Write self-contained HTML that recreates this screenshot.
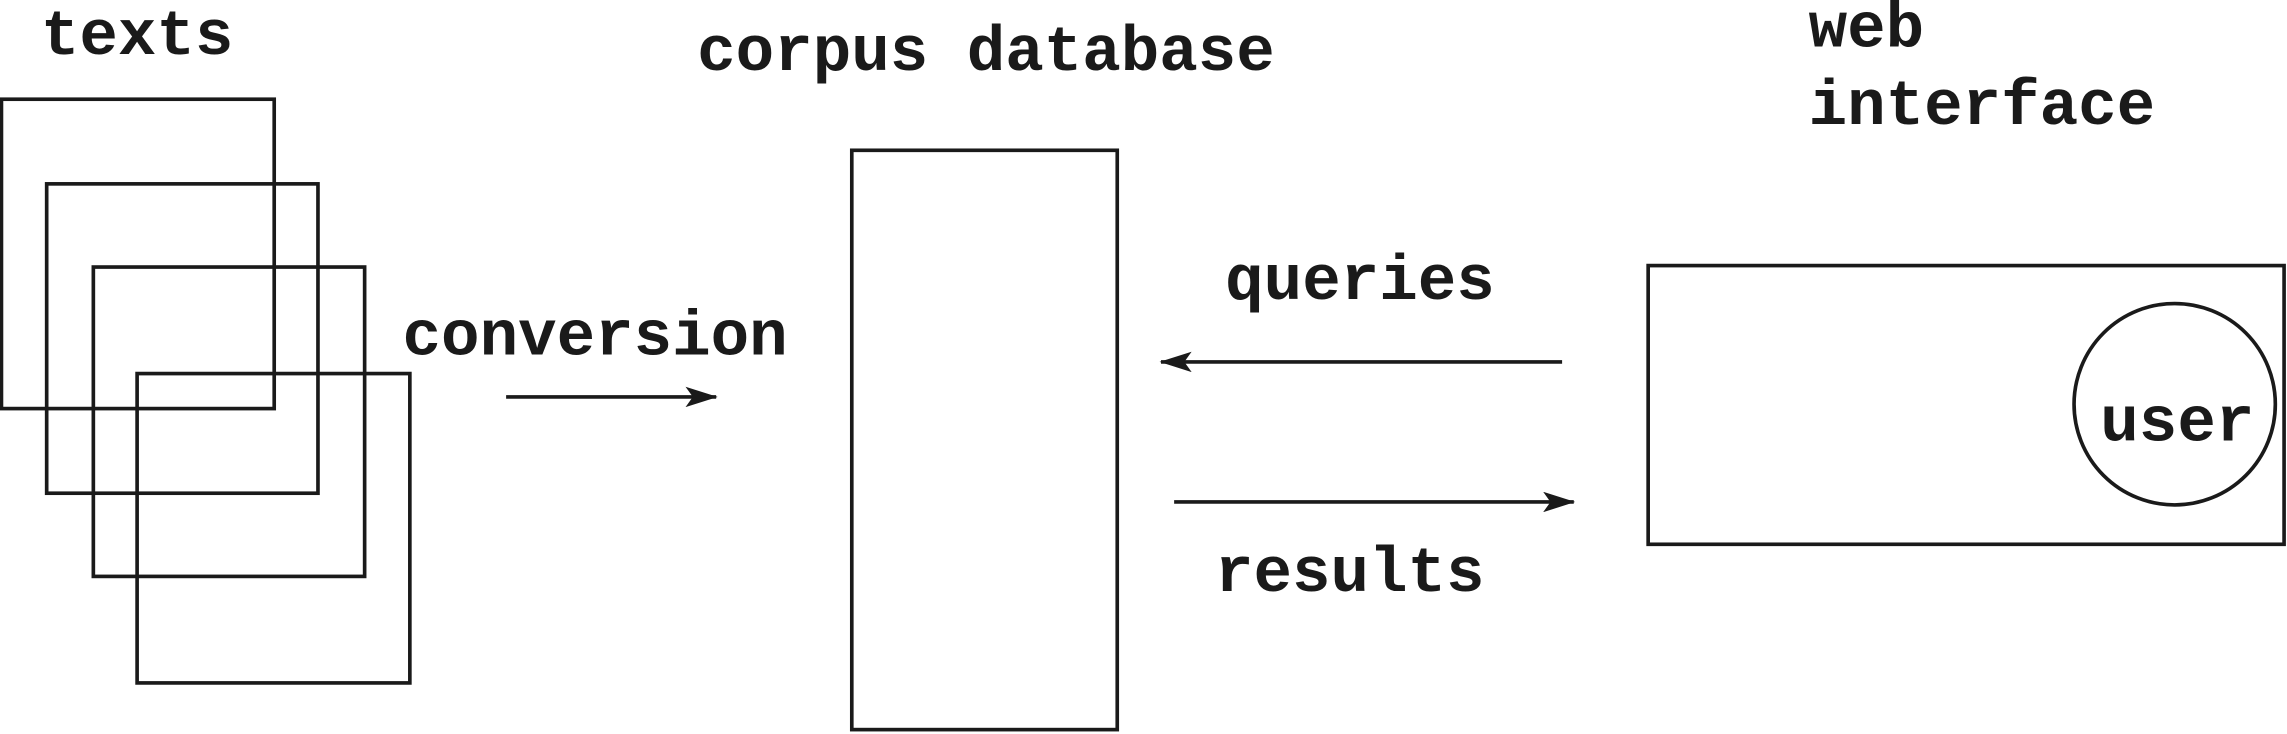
<!DOCTYPE html>
<html><head><meta charset="utf-8"><style>
html,body{margin:0;padding:0;background:#fff;}
svg{display:block;}
text{font-family:"Liberation Mono",monospace;font-weight:bold;font-size:44px;fill:#1a1a1a;}
</style></head><body>
<svg width="2287" height="734" viewBox="0 0 1568 503" preserveAspectRatio="none" xmlns="http://www.w3.org/2000/svg">
<defs>
<marker id="ah" markerWidth="22" markerHeight="14" refX="21" refY="7" orient="auto" markerUnits="userSpaceOnUse">
<path d="M0,0 L22,7 L0,14 L5,7 Z" fill="#1a1a1a"/>
</marker>
</defs>
<g fill="none" stroke="#1a1a1a" stroke-width="2.5">
<rect x="1" y="68" width="187" height="212"/>
<rect x="32" y="126" width="186" height="212"/>
<rect x="64" y="183" width="186" height="212"/>
<rect x="94" y="256" width="187" height="212"/>
<rect x="584" y="103" width="182" height="397"/>
<rect x="1130" y="182" width="436" height="191"/>
<circle cx="1491" cy="277" r="69"/>
<line x1="347" y1="272" x2="491" y2="272" marker-end="url(#ah)"/>
<line x1="1071" y1="248" x2="796" y2="248" marker-end="url(#ah)"/>
<line x1="805" y1="344" x2="1079" y2="344" marker-end="url(#ah)"/>
</g>
<text x="28" y="37">texts</text>
<text x="478" y="48">corpus database</text>
<text x="1240" y="32">web</text>
<text x="1240" y="85">interface</text>
<text x="276" y="243">conversion</text>
<text x="840" y="205">queries</text>
<text x="833" y="405">results</text>
<text x="1440" y="302">user</text>
</svg>
</body></html>
